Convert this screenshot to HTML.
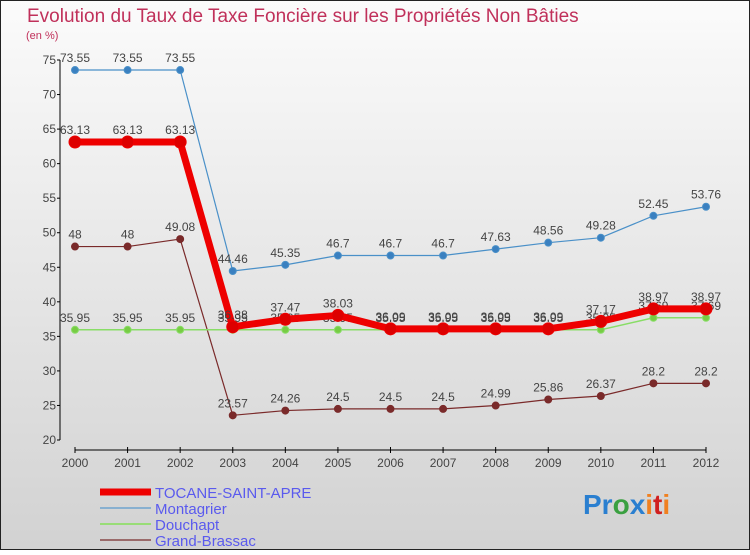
<!DOCTYPE html>
<html><head><meta charset="utf-8"><style>
body{margin:0}
#c{width:750px;height:550px;position:relative;font-family:"Liberation Sans",sans-serif}
svg text{font-family:"Liberation Sans",sans-serif}
</style></head><body>
<div id="c">
<svg id="s" width="750" height="550" xmlns="http://www.w3.org/2000/svg">
<defs><linearGradient id="bg" x1="0" y1="0" x2="0" y2="1"><stop offset="0" stop-color="#fbfbfb"/><stop offset="1" stop-color="#d2d2d2"/></linearGradient></defs>
<rect x="0.5" y="0.5" width="749" height="549" fill="url(#bg)" stroke="#222" stroke-width="1"/>
<text x="27" y="22" font-size="19" fill="#c0305a">Evolution du Taux de Taxe Foncière sur les Propriétés Non Bâties</text>
<text x="26" y="39" font-size="11" fill="#c0305a">(en %)</text>
<g id="axes"></g><g id="series"></g><g id="legend"></g>
<text x="583" y="514" font-size="28" font-weight="bold"><tspan fill="#2a7fd0">Pr</tspan><tspan fill="#3aa040">o</tspan><tspan fill="#2a7fd0">x</tspan><tspan fill="#f08020">i</tspan><tspan fill="#d02020">t</tspan><tspan fill="#f08020">i</tspan></text>
</svg></div>
<script>
const years=[2000,2001,2002,2003,2004,2005,2006,2007,2008,2009,2010,2011,2012];
const yTicks=[20,25,30,35,40,45,50,55,60,65,70,75];
const tocane=[63.13,63.13,63.13,36.38,37.47,38.03,36.09,36.09,36.09,36.09,37.17,38.97,38.97];
const montagrier=[73.55,73.55,73.55,44.46,45.35,46.7,46.7,46.7,47.63,48.56,49.28,52.45,53.76];
const douchapt=[35.95,35.95,35.95,35.95,35.95,35.95,35.95,35.95,35.95,35.95,35.95,37.69,37.69];
const grand=[48,48,49.08,23.57,24.26,24.5,24.5,24.5,24.99,25.86,26.37,28.2,28.2];
const NS="http://www.w3.org/2000/svg";
const X=i=>75+i*(706-75)/12;
const Y=v=>440-(v-20)*(380/55);
function mk(tag,attrs,parent,txt){const e=document.createElementNS(NS,tag);for(const k in attrs)e.setAttribute(k,attrs[k]);if(txt!=null)e.textContent=txt;parent.appendChild(e);return e;}
const axes=document.getElementById('axes');
let a=mk('line',{x1:60,y1:60,x2:60,y2:440,stroke:'#000','stroke-width':1},axes);


yTicks.forEach(v=>{
 let t=mk('line',{x1:57,y1:Y(v),x2:60,y2:Y(v),stroke:'#000'},axes);
 
 
 let l=mk('text',{x:56,y:Y(v)+4,'font-size':12,fill:'#444','text-anchor':'end'},axes,String(v));
 
 
});
a=mk('line',{x1:75,y1:450,x2:706,y2:450,stroke:'#000','stroke-width':1},axes);


years.forEach((y,i)=>{
 let t=mk('line',{x1:X(i),y1:447,x2:X(i),y2:453,stroke:'#000'},axes);
 
 
 let l=mk('text',{x:X(i),y:467,'font-size':12,fill:'#444','text-anchor':'middle'},axes,String(y));
 
 
});
const ser=document.getElementById('series');
function draw(vals,name,color,w,r,dot){
 const g=mk('g',{},ser);
 
 
 const p=mk('polyline',{points:vals.map((v,i)=>X(i)+','+Y(v)).join(' '),fill:'none',stroke:color,'stroke-width':w,'stroke-linejoin':'round'},g);
 
 
 vals.forEach((v,i)=>{
  const c=mk('circle',{cx:X(i),cy:Y(v),r:r,fill:dot,stroke:color,'stroke-width':1},g);
  
  
  const t=mk('text',{x:X(i),y:Y(v)-8,'font-size':12,fill:'#444','text-anchor':'middle'},g,String(v));
  
  
 });
}
draw(grand,'grand-brassac','#7a2a2a',1.2,3.5,'#7a2a2a');
draw(montagrier,'montagrier','#4a90c8',1.2,3.5,'#3a80c0');
draw(douchapt,'douchapt','#88dd66',1.5,3.5,'#77cc44');
draw(tocane,'tocane-saint-apre','#ee0000',7,6,'#dd0000');
const lg=document.getElementById('legend');
const leg=[['TOCANE-SAINT-APRE','#ee0000',7],['Montagrier','#88b0d0',2],['Douchapt','#99dd77',2],['Grand-Brassac','#9a6a6a',2]];
leg.forEach((d,i)=>{
 const y=492+i*16;
 const g=mk('g',{},lg);
 
 
 const l=mk('line',{x1:100,y1:y,x2:151,y2:y,stroke:d[1],'stroke-width':d[2]},g);
 
 
 const t=mk('text',{x:155,y:y+6,'font-size':15,fill:'#5a5aee'},g,d[0]);
 
 
});
</script>
</body></html>
